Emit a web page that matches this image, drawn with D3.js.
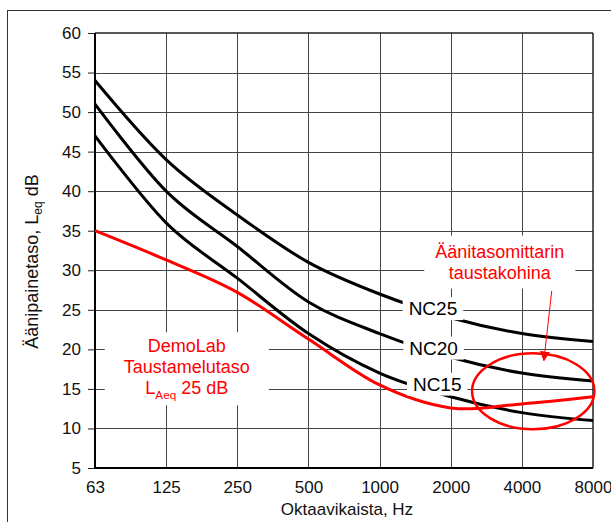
<!DOCTYPE html>
<html>
<head>
<meta charset="utf-8">
<script src="https://cdn.jsdelivr.net/npm/d3@7"></script>
<style>
  body { margin: 0; background: #fff; }
  svg text { font-family: "Liberation Sans", Arial, sans-serif; }
</style>
</head>
<body>
<div id="chart"></div>
<script>
const bands = ["63", "125", "250", "500", "1000", "2000", "4000", "8000"];
const nc15 = [47, 36, 29, 22, 17, 14, 12, 11];
const nc20 = [51, 40, 33, 26, 22, 19, 17, 16];
const nc25 = [54, 44, 37, 31, 27, 24, 22, 21];
const demoLab = [35, 31.3, 27.2, 21.3, 15.5, 12.6, 13.1, 14.0];
const yTicks = [5, 10, 15, 20, 25, 30, 35, 40, 45, 50, 55, 60];

const width = 611;
const height = 522;
const margin = { top: 33, right: 18, bottom: 54, left: 95 };

const svg = d3
  .select("#chart")
  .append("svg")
  .attr("width", width)
  .attr("height", height);

// outer frame
svg
  .append("rect")
  .attr("x", 7.5)
  .attr("y", 10.5)
  .attr("width", 700)
  .attr("height", 600)
  .attr("fill", "none")
  .attr("stroke", "#333")
  .attr("stroke-width", 1);

const x = d3
  .scaleLinear()
  .domain([0, bands.length - 1])
  .range([margin.left, width - margin.right]);

const y = d3
  .scaleLinear()
  .domain([5, 60])
  .range([height - margin.bottom, margin.top]);

// grid
svg
  .append("g")
  .selectAll("line")
  .data(yTicks.slice(1, -1))
  .join("line")
  .attr("x1", x(0))
  .attr("x2", x(7))
  .attr("y1", (d) => Math.round(y(d)) + 0.5)
  .attr("y2", (d) => Math.round(y(d)) + 0.5)
  .attr("stroke", "#444")
  .attr("stroke-width", 1);

svg
  .append("g")
  .selectAll("line")
  .data(d3.range(1, bands.length - 1))
  .join("line")
  .attr("x1", (d) => Math.round(x(d)) + 0.5)
  .attr("x2", (d) => Math.round(x(d)) + 0.5)
  .attr("y1", y(60))
  .attr("y2", y(5))
  .attr("stroke", "#444")
  .attr("stroke-width", 1);

// y axis with outside ticks
const yAxis = svg
  .append("g")
  .attr("transform", `translate(${x(0)},0)`)
  .call(d3.axisLeft(y).tickValues(yTicks).tickSize(7).tickPadding(7));
yAxis.select(".domain").remove();
yAxis.selectAll(".tick line").attr("stroke", "#222");
yAxis
  .selectAll(".tick text")
  .attr("font-size", 17)
  .attr("fill", "#111")
  .style("font-family", "Liberation Sans, Arial, sans-serif");

// x axis labels
const xAxis = svg
  .append("g")
  .attr("transform", `translate(0,${y(5)})`)
  .call(
    d3
      .axisBottom(x)
      .tickValues(d3.range(bands.length))
      .tickFormat((i) => bands[i])
      .tickSize(0)
      .tickPadding(13)
  );
xAxis.select(".domain").remove();
xAxis
  .selectAll(".tick text")
  .attr("font-size", 17)
  .attr("fill", "#111")
  .style("font-family", "Liberation Sans, Arial, sans-serif");

// plot border
svg
  .append("line")
  .attr("x1", x(0))
  .attr("x2", x(7))
  .attr("y1", y(60))
  .attr("y2", y(60))
  .attr("stroke", "#222")
  .attr("stroke-width", 1.5);
svg
  .append("line")
  .attr("x1", x(7))
  .attr("x2", x(7))
  .attr("y1", y(60))
  .attr("y2", y(5))
  .attr("stroke", "#222")
  .attr("stroke-width", 1.5);
svg
  .append("line")
  .attr("x1", x(0))
  .attr("x2", x(0))
  .attr("y1", y(60))
  .attr("y2", y(5))
  .attr("stroke", "#000")
  .attr("stroke-width", 2);
svg
  .append("line")
  .attr("x1", x(0))
  .attr("x2", x(7))
  .attr("y1", y(5))
  .attr("y2", y(5))
  .attr("stroke", "#000")
  .attr("stroke-width", 2);

// curves
const line = d3
  .line()
  .x((d, i) => x(i))
  .y((d) => y(d))
  .curve(d3.curveCardinal.tension(0));

svg
  .append("g")
  .selectAll("path")
  .data([nc25, nc20, nc15])
  .join("path")
  .attr("d", line)
  .attr("fill", "none")
  .attr("stroke", "#000")
  .attr("stroke-width", 3);

svg
  .append("path")
  .attr("d", line(demoLab))
  .attr("fill", "none")
  .attr("stroke", "#ff0000")
  .attr("stroke-width", 3);

// labels with white boxes
function boxedLabel({ cx, cy, lines, color, size, padX, padY, lineHeight }) {
  const g = svg.append("g");
  const rect = g.append("rect").attr("fill", "#fff");
  const text = g
    .append("text")
    .attr("text-anchor", "middle")
    .attr("fill", color)
    .attr("font-size", size);
  const top = y(cy) - ((lines.length - 1) * lineHeight) / 2 + size * 0.36;
  lines.forEach((parts, i) => {
    const t = text.append("tspan").attr("x", x(cx)).attr("y", top + i * lineHeight);
    parts.forEach((p, j) => {
      const s = j === 0 ? t : text.append("tspan");
      if (j > 0) s.attr("dy", p.sub ? 5 : parts[j - 1].sub ? -5 : 0);
      s.text(p.t);
      if (p.sub) s.attr("font-size", size * 0.65);
    });
  });
  const bb = text.node().getBBox();
  rect
    .attr("x", bb.x - padX)
    .attr("y", bb.y - padY)
    .attr("width", bb.width + 2 * padX)
    .attr("height", bb.height + 2 * padY);
}

boxedLabel({ cx: 4.75, cy: 25.2, lines: [[{ t: "NC25" }]], color: "#000", size: 19, padX: 6, padY: 1, lineHeight: 21 });
boxedLabel({ cx: 4.76, cy: 20.2, lines: [[{ t: "NC20" }]], color: "#000", size: 19, padX: 6, padY: 1, lineHeight: 21 });
boxedLabel({ cx: 4.81, cy: 15.65, lines: [[{ t: "NC15" }]], color: "#000", size: 19, padX: 6, padY: 1, lineHeight: 21 });

boxedLabel({
  cx: 1.29,
  cy: 17.8,
  lines: [
    [{ t: "DemoLab" }],
    [{ t: "Taustamelutaso" }],
    [{ t: "L" }, { t: "Aeq", sub: true }, { t: " 25 dB" }],
  ],
  color: "#ff0000",
  size: 18,
  padX: 19,
  padY: 4,
  lineHeight: 21,
});

boxedLabel({
  cx: 5.69,
  cy: 31.1,
  lines: [[{ t: "Äänitasomittarin" }], [{ t: "taustakohina" }]],
  color: "#ff0000",
  size: 18,
  padX: 11,
  padY: 6,
  lineHeight: 21,
});

// ellipse around the meter noise floor
svg
  .append("ellipse")
  .attr("cx", x(6.16))
  .attr("cy", y(14.7))
  .attr("rx", x(6.16) - x(5.3))
  .attr("ry", y(10) - y(14.8))
  .attr("fill", "none")
  .attr("stroke", "#ff0000")
  .attr("stroke-width", 2.5);

// arrow
svg
  .append("defs")
  .append("marker")
  .attr("id", "arrow")
  .attr("viewBox", "0 0 10 10")
  .attr("refX", 9)
  .attr("refY", 5)
  .attr("markerWidth", 10)
  .attr("markerHeight", 10)
  .attr("markerUnits", "userSpaceOnUse")
  .attr("orient", "auto")
  .append("path")
  .attr("d", "M0,0L10,5L0,10Z")
  .attr("fill", "#ff0000");

svg
  .append("line")
  .attr("x1", x(6.42))
  .attr("y1", y(27.4))
  .attr("x2", x(6.31))
  .attr("y2", y(18.6))
  .attr("stroke", "#ff0000")
  .attr("stroke-width", 1)
  .attr("marker-end", "url(#arrow)");

// axis titles
svg
  .append("text")
  .attr("x", 347)
  .attr("y", 515)
  .attr("text-anchor", "middle")
  .attr("font-size", 17)
  .attr("fill", "#111")
  .text("Oktaavikaista, Hz");

const yTitle = svg
  .append("text")
  .attr("transform", `translate(38,${(y(60) + y(5)) / 2 + 11}) rotate(-90)`)
  .attr("text-anchor", "middle")
  .attr("font-size", 18)
  .attr("fill", "#111");
yTitle.append("tspan").text("Äänipainetaso, L");
yTitle.append("tspan").attr("dy", 4).attr("font-size", 12).text("eq");
yTitle.append("tspan").attr("dy", -4).text(" dB");
</script>
</body>
</html>
